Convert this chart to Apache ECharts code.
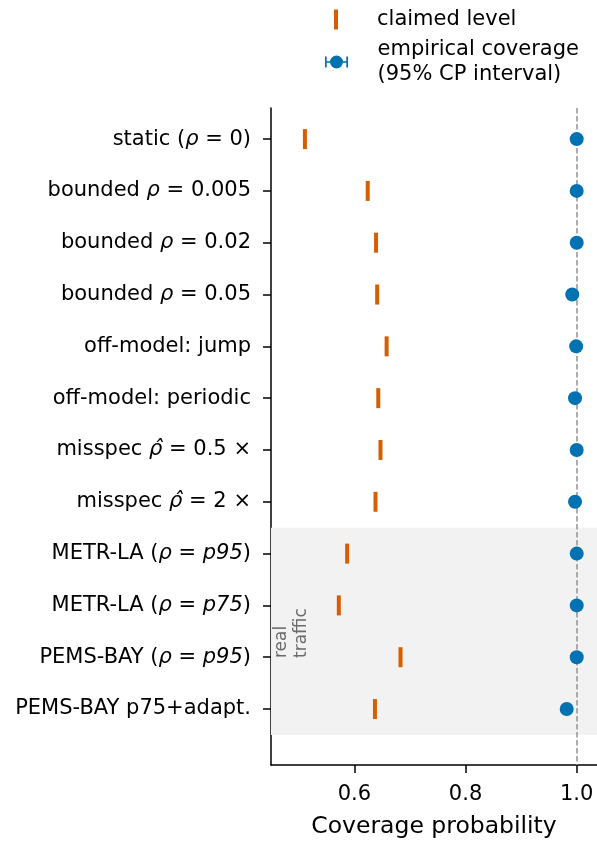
<!DOCTYPE html>
<html>
<head>
<meta charset="utf-8">
<script src="https://cdn.jsdelivr.net/npm/echarts@6/dist/echarts.min.js"></script>
<style>
  html, body { margin: 0; padding: 0; background: #fff; }
  #chart { width: 597px; height: 844px; }
</style>
</head>
<body>
<div id="chart"></div>
<script>
// rows, top to bottom
const categories = [
  'static (ρ = 0)',
  'bounded ρ = 0.005',
  'bounded ρ = 0.02',
  'bounded ρ = 0.05',
  'off-model: jump',
  'off-model: periodic',
  'misspec ρ̂ = 0.5 ×',
  'misspec ρ̂ = 2 ×',
  'METR-LA (ρ = p95)',
  'METR-LA (ρ = p75)',
  'PEMS-BAY (ρ = p95)',
  'PEMS-BAY p75+adapt.'
];
const claimed = [0.511, 0.624, 0.639, 0.641, 0.658, 0.643, 0.647, 0.638, 0.587, 0.572, 0.683, 0.637];
const empirical = [1.0, 1.0, 1.0, 0.992, 0.999, 0.997, 1.0, 0.997, 1.0, 1.0, 1.0, 0.982];
const xTicks = [0.6, 0.8, 1.0];
const realTrafficRows = [7.5, 11.5];

const FONT = 'DejaVu Sans';
const ORANGE = '#d55e00';
const BLUE = '#0072b2';
const FS = 21;
const rowIdx = categories.map((_, i) => i);

// italic for the math bits
function richLabel(s) {
  return s
    .replace(/ρ̂/g, '\u0000')
    .replace(/ρ/g, '{i|ρ}')
    .replace(/\u0000/g, '{i|ρ̂}')
    .replace(/= (p\d\d)/g, '= {i|$1}');
}

const chart = echarts.init(document.getElementById('chart'));

const option = {
  animation: false,
  textStyle: { fontFamily: FONT },
  grid: { left: 271, right: 0, top: 108, bottom: 77 },
  legend: [
    {
      data: [{ name: 'claimed level', icon: 'path://M0,0h4v20h-4Z' }],
      left: 329, top: 4,
      itemWidth: 72, itemHeight: 20,
      selectedMode: false,
      textStyle: { fontSize: FS, color: '#000', fontFamily: FONT }
    },
    {
      data: [{
        name: 'empirical coverage\n(95% CP interval)',
        icon: 'path://M0,1h1.7v11h-1.7Z M21.3,1h1.7v11h-1.7Z M0,5.75h23v1.5h-23Z M11.5,0a6.5,6.5 0 1,1 0,13a6.5,6.5 0 1,1 0,-13Z'
      }],
      left: 320, top: 32,
      itemWidth: 72, itemHeight: 13,
      selectedMode: false,
      textStyle: { fontSize: FS, lineHeight: 25, color: '#000', fontFamily: FONT }
    }
  ],
  xAxis: {
    type: 'value',
    min: 0.45, max: 1.0365,
    name: 'Coverage probability',
    nameLocation: 'middle',
    nameGap: 50,
    nameTextStyle: { fontSize: 23.5, color: '#000', fontFamily: FONT },
    axisLine: { show: true, onZero: false, lineStyle: { color: '#000', width: 1.5 } },
    axisTick: { show: true, length: 8, lineStyle: { color: '#000', width: 1.5 }, customValues: xTicks },
    axisLabel: { fontSize: FS, color: '#000', margin: 19, customValues: xTicks,
      formatter: v => v.toFixed(1) },
    splitLine: { show: false }
  },
  yAxis: {
    type: 'value',
    inverse: true,
    min: -0.6, max: 12.08,
    axisLine: { show: true, onZero: false, lineStyle: { color: '#000', width: 1.5 } },
    axisTick: { show: true, length: 8, lineStyle: { color: '#000', width: 1.5 }, customValues: rowIdx },
    axisLabel: {
      fontSize: FS, color: '#000', margin: 20, customValues: rowIdx,
      formatter: v => richLabel(categories[Math.round(v)] || ''),
      rich: { i: { fontStyle: 'italic', fontSize: FS, color: '#000', fontFamily: FONT } }
    },
    splitLine: { show: false }
  },
  series: [
    {
      name: 'claimed level',
      type: 'scatter',
      symbol: 'rect',
      symbolSize: [4, 20],
      itemStyle: { color: ORANGE, opacity: 1 },
      data: claimed.map((v, i) => [v, i]),
      z: 3,
      markArea: {
        silent: true,
        itemStyle: { color: '#f2f2f2' },
        data: [[{ yAxis: realTrafficRows[0] }, { yAxis: realTrafficRows[1] }]]
      }
    },
    {
      name: 'empirical coverage\n(95% CP interval)',
      type: 'scatter',
      symbol: 'circle',
      symbolSize: 14,
      itemStyle: { color: BLUE, opacity: 1 },
      data: empirical.map((v, i) => [v, i]),
      z: 4,
      markLine: {
        silent: true,
        symbol: 'none',
        label: { show: false },
        lineStyle: { color: '#999', width: 1.6, type: [5.5, 2.5] },
        data: [{ xAxis: 1.0 }],
        z: 2
      }
    }
  ],
  graphic: [{
    type: 'text',
    z: 100,
    x: 292, y: 658,
    rotation: Math.PI / 2,
    style: {
      text: 'real\ntraffic',
      fontSize: 17, fontFamily: FONT,
      lineHeight: 20,
      fill: '#6b6b6b',
      align: 'left', verticalAlign: 'middle'
    }
  }]
};

chart.setOption(option);
</script>
</body>
</html>
